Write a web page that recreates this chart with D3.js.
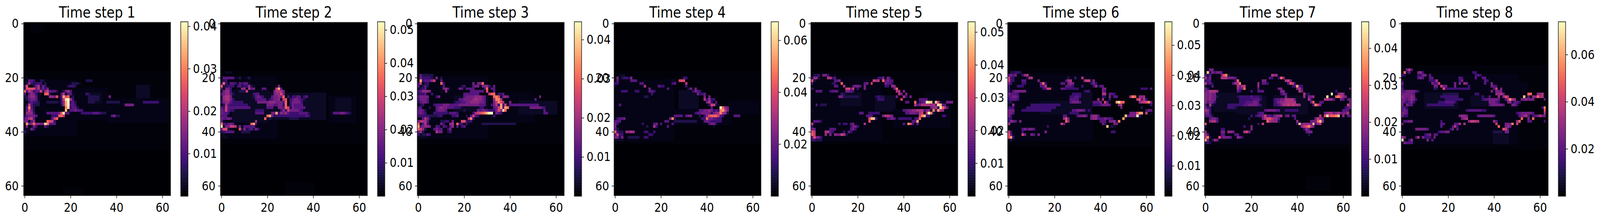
<!DOCTYPE html>
<html>
<head>
<meta charset="utf-8">
<script src="https://cdn.jsdelivr.net/npm/d3@7"></script>
<style>
  html, body { margin: 0; padding: 0; background: #fff; overflow: hidden; }
  svg { display: block; width: 100vw; height: 100vh; }
  text { font-family: "DejaVu Sans"; fill: #000; }
</style>
</head>
<body>
<svg id="chart" viewBox="0 0 4826 563" preserveAspectRatio="none"></svg>
<script>
// panel titles, colour limits and colorbar ticks
const titles = ["Time step 1", "Time step 2", "Time step 3", "Time step 4", "Time step 5", "Time step 6", "Time step 7", "Time step 8"]
const maxValues = [0.0411, 0.0525, 0.0446, 0.0672, 0.0532, 0.0578, 0.0472, 0.074]
const colorTicks = [
  [0.01, 0.02, 0.03, 0.04],
  [0.01, 0.02, 0.03, 0.04, 0.05],
  [0.01, 0.02, 0.03, 0.04],
  [0.02, 0.04, 0.06],
  [0.01, 0.02, 0.03, 0.04, 0.05],
  [0.01, 0.02, 0.03, 0.04, 0.05],
  [0.01, 0.02, 0.03, 0.04],
  [0.02, 0.04, 0.06]
]
const gridTicks = [0, 20, 40, 60]

// levels: 0-f are fifteenths of the panel maximum, "." and "," are the faint haze
// patches: first row, last row, first col, last col, level
// rows: "row col levels col levels ..."
const step1Patches = [[0,3,3,8,"."],[61,63,17,25,"."],[18,46,0,63,"."],[21,41,0,22,","],[24,35,22,36,","],[26,29,28,33,"1"],[28,36,36,62,","],[23,27,49,54,"1"]]
const step1Rows = [
  "20 1 1", "21 2 443 7 22 27 222", "22 1 263233302 20 12221", "23 0 3900257253 19 2332",
  "24 0 29999573535", "25 0 a47634482684442 17 2564", "26 0 404653110aa2 16 471441 27 32",
  "27 0 2256641 11 665914c9a12 28 22222 37 5", "28 0 1245541 16 38ef73 28 22222",
  "29 0 1034332 10 222221 16 36cf342 28 222 36 222222 52 3333333", "30 1 284222 16 26cf443 44 5555",
  "31 1 4b42 18 be3442", "32 1 4852 18 d0445443", "33 1 6663 10 44444 15 5ae44 25 33333444322",
  "34 0 245554 12 333 15 aa8 38 4522", "35 0 45784 12 48a", "36 0 55146 10 a983",
  "37 1 c56a6655eb444", "38 1 50153 9 42", "39 0 11153", "40 0 31"
]
const step2Patches = [[18,44,0,63,"."],[20,42,0,24,","],[25,36,5,20,"1"],[26,35,20,45,"1"],[27,36,47,58,","],[28,33,50,56,"1"],[59,63,28,40,"."]]
const step2Rows = [
  "18 2 111", "20 1 44444 6 112 11 12", "21 0 123",
  "22 0 3a314431 8 43441", "23 0 a223330 7 342336 13 21 25 5", "24 0 405530 7 10 9 66 11 1745 18 44 24 8c4",
  "25 0 15663 8 2228 23 57775", "26 0 456642 14 344 23 5669 27 51", "27 0 2677 4 5 14 24543 22 4556 26 5a03 31 3344 36 34",
  "28 0 26775 5 3 15 44444 21 3455 25 6 27 89 29 0 30 34554 35 32", "29 0 35664 5 33333 16 5555 20 5666 24 5554 28 a0 30 355553",
  "30 0 12743 5 3333333 20 5554455 27 3a0 30 35444 35 4", "31 0 43844 5 44444444 20 444 25 55 27 4a8 30 2 31 544444",
  "32 0 548433 15 3333 26 3638 30 555543", "33 0 5443 15 4444 22 55c3 26 656 29 43333 34 44442 49 44455432",
  "34 0 444 20 ac52 24 3333333333333 37 43", "35 0 54454 19 a12 30 2222", "36 0 51 15 7", "37 0 b43454 13 ac3",
  "38 0 f155887 8 5 10 44444", "39 0 59921 8 92523 13 42 15 53", "40 0 234444 9 2222", "41 1 1", "42 1 11"
]
const step3Patches = [[18,44,0,63,"."],[20,42,0,30,","],[26,36,30,50,","],[27,32,16,30,"1"],[29,33,44,60,"1"]]
const step3Rows = [
  "19 1 422222", "20 1 533332 8 5 10 2", "21 1 c34446 7 8 10 4", "22 0 38123 10 a3 24 5 26 55a",
  "23 0 41242 10 14 19 23 24 455 28 5663 33 4", "24 0 1234 11 564 18 54 21 4444 29 4a 32 44",
  "25 0 34666 5 5 10 1 12 61 23 444444 30 9 33 4", "26 0 2334 6 3 20 4444444 31 8aa 35 334",
  "27 0 45555 8 35 20 455556665 29 4 33 ab91 37 565 53 5", "28 0 35554 18 4455556 25 7665 29 4 33 6bb71 51 4",
  "29 0 24554 16 2334455666655 29 4 33 58b971 40 5", "30 1 23 7 34445554444555 21 55555544 29 4 32 3573c38 39 1 40 444444444 49 4444",
  "31 0 34 5 2 8 45655444 16 333 27 33 33 458c4cb 49 55555 54 43", "32 0 4542 8 45554 20 2 26 5455 30 4333 34 59 36 6ea 55 4",
  "33 0 4543 7 333333 13 24443 24 3789abdff 34 543 55 44", "34 0 3333 4 3222233 15 334 21 2 23 4843 33 3",
  "35 2 4752 22 7b3", "36 0 57774 10 2233 15 5 19 99323", "37 0 a1473 10 53 14 67 17 a33 21 31 28 222222222222222",
  "38 0 c45665 8 43 11 43 14 46 17 4 19 34", "39 0 a862 7 4544 13 35", "40 0 462 8 755 13 23", "41 0 312243", "42 1 111"
]
const step4Patches = [[18,44,0,63,"."],[21,43,0,25,","],[25,31,28,36,"1"],[32,37,26,50,","],[29,33,50,62,","],[23,28,45,60,"."]]
const step4Rows = [
  "19 2 111", "20 1 5 3 2332 7 5 30 33", "21 1 4 7 444 25 11 28 899", "22 0 33 11 44 25 34 31 7",
  "23 0 1 12 17 19 433 31 3", "24 15 5 23 4 32 25 35 5", "25 3 333 9 33 15 443 34 3543", "26 16 3 36 5334",
  "27 13 22 39 5 41 5", "28 39 7 40 3 41 6 42 33", "29 40 57 42 3 44 4", "30 2 4 41 3882 45 1",
  "31 42 4 46 fa65", "32 37 44 39 5565 43 343 46 bc85", "33 35 34455 40 55 42 3 43 5 44 67b 47 762",
  "34 26 4444 31 455 37 2 39 369aaa 45 843 52 444", "35 0 13445 24 5b2 38 33 40 a55 43 443 46 3",
  "36 0 444 22 44 26 2222222222 39 454 42 33333", "37 0 53 12 3 17 45 20 4 25 4 41 455 44 2",
  "38 0 5 14 2 17 73 23 4 43 1", "39 0 42", "40 0 a322 5 6676 13 33 17 3", "41 0 4833 15 33", "42 0 5525 6 22222 13 33", "43 0 1111"
]
const step5Patches = [[18,44,0,63,"."],[20,43,0,30,","],[26,30,13,21,"1"],[27,32,28,36,"1"],[26,36,50,60,","],[32,38,36,60,","]]
const step5Rows = [
  "19 1 223 5 553 10 1", "20 0 2662 7 7734 29 335 33 53", "21 0 92 10 445 27 877 31 a454 35 4",
  "22 0 3 9 23 13 a 23 45 26 8 32 5443", "23 10 44 14 7 18 4554 23 5 32 33 35 66", "24 0 3 15 8958 20 3 23 5 36 5a",
  "25 2 444 8 3444 15 5543 37 77 40 5", "26 13 32 38 75 41 5", "27 12 552222222 28 2322 37 5 40 73 43 5",
  "28 29 333 39 8 47 4444", "29 41 44 45 a1345fed1d8 59 555 56 2", "30 2 4 4 222 45 74577776 53 75ed44",
  "31 52 567 55 2ea74", "32 0 1 40 44556677 48 7456 53 b3c76", "33 21 44 25 33333 41 44555 46 47 48 8 50 8fb2",
  "34 24 444 31 57765 47 8 48 bd35 51 3 57 33", "35 25 9dd3 33 4454 38 333333 45 34a", "36 1 4442 25 91 44 44c", "37 0 81 12 3 14 33 17 45 23 7 40 4 42 c94 46 4",
  "38 0 3 17 3553", "39 0 55 8 444 17 453", "40 0 98 6 774 9 3 14 3 16 43", "41 0 a8 6 6 8 5 10 655872", "42 0 4955 4 3", "43 0 33222"
]
const step6Patches = [[17,45,0,63,"."],[19,43,0,36,","],[26,33,28,36,"1"],[27,33,5,22,","],[29,33,14,36,"1"]]
const step6Rows = [
  "18 1 22332", "19 0 4545 6 367", "20 0 833 8 277 26 2 29 3 32 7", "21 0 833 6 44 13 5 25 467 33 68825",
  "22 0 53 6 33 14 5a3 23 44 26 565 36 353", "23 0 3 4 333 14 447 25 4443 32 3 37 36244", "24 0 3 15 3488 23 44333333 41 55 58 333 62 4",
  "25 0 3 2 455555 33 233 41 54", "26 0 54443 28 3333 41 77 44 443", "27 0 44554 27 33443 41 32 44 5 46 44 53 7ba 57 666",
  "28 0 34443 27 4444 39 6 41 7 44 3 56 89 58 473", "29 0 22 27 45554 37 4445 42 84 47 cea 50 a 57 6789b5",
  "30 0 1 2 6 10 3333333333333 37 3334555 44 4 48 67 62 3", "31 0 333 8 3333333333333 49 5 58 2",
  "32 0 555 6 3333333333333 28 445554 35 3 60 354", "33 0 55 2 4 27 3333 53 5559cc1 60 8 62 1",
  "34 0 53 24 44 30 45564 36 5664 51 d4555f3", "35 0 33 24 695 36 5664 40 445443 50 c1",
  "36 0 3654 5 5 25 a6 40 444 44 5562 48 b", "37 0 7 1 1 23 8 24 5 41 53 46 55", "38 17 3 43 d121", "39 6 454554", "40 0 83 6 3 16 5 45 33",
  "41 0 94 2 1 6 85 10 54 13 5", "42 0 9c3", "43 1 2"
]
const step7Patches = [[16,46,0,63,"."],[17,44,0,63,","],[27,33,14,26,"1"],[27,33,30,44,"1"],[26,32,4,14,"1"],[57,61,44,54,"."]]
const step7Rows = [
  "17 2 55", "18 1 d2545 6 54", "19 0 424 7 59b2 29 766", "20 0 735 7 777555 13 4 28 43 32 3a6",
  "21 0 344 13 3a 25 55 35 785", "22 0 8342 12 467b 23 6 25 443 36 4983", "23 0 2 3 4 14 7578 23 6 38 34c43",
  "24 0 53 14 645a 23 4 32 55 40 674 63 5", "25 0 557776 14 43 20 3 23 444 33 55 41 75 57 3", "26 0 65655 33 354 42 0 43 722 55 f 58 676",
  "27 0 656552 14 23333343332 35 5 43 6 45 55 47 6 53 e 57 ab865", "28 0 65655 15 3333334443 30 34455777 38 74 45 73 52 7766 56 4 59 54 62 45",
  "29 0 64553 15 333444554 30 3456677 37 777 46 5a 50 44 63 5", "30 0 4 1 17 3 2 10 333333344555 22 54 24 3 30 3345778 37 7 38 87 40 76 47 4b85 62 85",
  "31 0 533 10 3332 61 345", "32 0 763 26 455554 32 4 35 333333 60 444", "33 0 553 23 344 52 56775675557",
  "34 0 4442 20 3 22 3445 26 84435667 35 45 38 44 50 7 52 9e9aabd 60 6 62 44", "35 2 4554 19 2 25 5799766 32 4 39 4 48 5865",
  "36 2 6774 27 a7666 32 2 40 6 46 5 47 55ad6", "37 0 a 23 3 25 8 40 3d5666 46 5d467", "38 0 2 17 3 20 5 42 689b75",
  "39 7 33 20 5 43 364", "40 0 6 7 55 10 665 17 785 44 455", "41 0 74 7 44 13 44 45 2", "42 0 8b2 6 94555 11 4 14 653", "43 0 c5 3 265", "44 0 232"
]
const step8Patches = [[16,46,0,63,"."],[19,44,0,50,","],[26,31,10,24,"1"],[27,31,30,38,"1"],[31,35,28,44,","],[22,27,46,54,","],[40,44,40,46,"1"]]
const step8Rows = [
  "17 2 574", "18 1 a24 7 563 31 33", "19 0 32 7 3355 12 4 32 343", "20 7 454 12 44 25 43 32 4 35 44",
  "21 0 2 12 3337 25 35 36 43", "22 0 5 13 5448 23 5 25 5 27 65 36 4 39 5", "23 0 3 14 55 17 855 23 5 29 3 39 543",
  "24 0 4 14 32 18 933333333333 40 48 43 5", "25 0 44555542 39 5 41 555", "26 0 555554 18 2222222 32 33 41 6675 55 aa 59 667",
  "27 0 655565 17 33333333 35 3 38 4 42 6 44 697 53 d 55 4 57 66a77", "28 0 5545653 19 33333333 35 34455554 45 47b76 52 556555 62 4",
  "29 0 543453 16 33344443 38 55543 46 5624 49 443", "30 0 5 2 544 11 333333333333 38 4555554 48 553", "31 0 442 61 3b",
  "32 0 454 28 344444433 62 9", "33 0 554 50 34555554 62 7", "34 0 533 25 5665 33 45555554 51 45674 57 3 58 45755",
  "35 26 567 52 a 55 5 57 a", "36 1 4455 17 3 29 68877 40 64 50 6a 55 44 62 3", "37 0 5 17 44 23 447 27 7 41 8 45 555 48 b 50 8",
  "38 17 4 22 473 42 a 45 565", "39 6 555554 21 35 24 4 44 984", "40 0 1 16 34455 40 2222 45 55", "41 10 345 14 44",
  "42 0 75 6 47 9 5333 14 5", "43 0 f1 3 36 11 5 13 4", "44 1 5444"
]

const allPatches = [step1Patches, step2Patches, step3Patches, step4Patches, step5Patches, step6Patches, step7Patches, step8Patches]
const allRows = [step1Rows, step2Rows, step3Rows, step4Rows, step5Rows, step6Rows, step7Rows, step8Rows]

const gridSize = 64
const firstLeft = 71.4, panelStep = 593.6
const plotTop = 57.4, plotSize = 443
const barOffset = 473.7, barWidth = 22, barTop = 55.7, barBottom = 502
const tickSize = 7, lineColor = "#1a1a1a", lineWidth = 1.7

const svg = d3.select("#chart")

function levelOf(c) {
  if (c === ".") return 0.3
  if (c === ",") return 0.6
  return parseInt(c, 16)
}

// turn the patches and rows into a grid of values
function buildGrid(patches, rows, vmax) {
  const grid = d3.range(gridSize).map(() => new Array(gridSize).fill(0))
  patches.forEach(([r0, r1, c0, c1, lev]) => {
    for (let r = r0; r <= r1; r++) for (let c = c0; c <= c1; c++) grid[r][c] = levelOf(lev) / 15 * vmax
  })
  rows.forEach(line => {
    const parts = line.split(" ")
    const r = +parts[0]
    for (let p = 1; p < parts.length; p += 2) {
      const start = +parts[p]
      Array.from(parts[p + 1]).forEach((ch, i) => {
        if (start + i < gridSize) grid[r][start + i] = levelOf(ch) / 15 * vmax
      })
    }
  })
  return grid
}

function styleAxis(g, size) {
  g.select(".domain").remove()
  g.selectAll("line").attr("stroke", lineColor).attr("stroke-width", lineWidth)
  g.selectAll("text").attr("font-size", size).attr("font-family", "DejaVu Sans").attr("fill", "#000")
}

titles.forEach((title, i) => {
  const vmax = maxValues[i]
  const left = firstLeft + i * panelStep
  const g = svg.append("g").attr("class", "panel")

  const color = d3.scaleSequential(d3.interpolateMagma).domain([0, vmax])
  const xBand = d3.scaleBand().domain(d3.range(gridSize)).range([left, left + plotSize])
  const yBand = d3.scaleBand().domain(d3.range(gridSize)).range([plotTop, plotTop + plotSize])
  const x = d3.scaleLinear().domain([-0.5, gridSize - 0.5]).range([left, left + plotSize])
  const y = d3.scaleLinear().domain([-0.5, gridSize - 0.5]).range([plotTop, plotTop + plotSize])

  const grid = buildGrid(allPatches[i], allRows[i], vmax)
  const cells = grid.flatMap((row, r) => row.map((v, c) => ({ r, c, v })))

  g.append("g").selectAll("rect")
    .data(cells)
    .join("rect")
    .attr("x", d => xBand(d.c))
    .attr("y", d => yBand(d.r))
    .attr("width", xBand.bandwidth() + 0.5)
    .attr("height", yBand.bandwidth() + 0.5)
    .attr("fill", d => color(d.v))
    .attr("shape-rendering", "crispEdges")

  g.append("rect")
    .attr("x", left).attr("y", plotTop)
    .attr("width", plotSize).attr("height", plotSize)
    .attr("fill", "none").attr("stroke", lineColor).attr("stroke-width", lineWidth)

  g.append("g")
    .attr("transform", `translate(0,${plotTop + plotSize})`)
    .call(d3.axisBottom(x).tickValues(gridTicks).tickSize(tickSize).tickPadding(11).offset(0))
    .call(a => styleAxis(a, 32.6))

  g.append("g")
    .attr("transform", `translate(${left},0)`)
    .call(d3.axisLeft(y).tickValues(gridTicks).tickSize(tickSize).tickPadding(8).offset(0))
    .call(a => styleAxis(a, 32.6))

  g.append("text")
    .attr("x", left + plotSize / 2)
    .attr("y", 45.5)
    .attr("text-anchor", "middle")
    .attr("font-size", 39.2)
    .text(title)

  // colorbar
  const barLeft = left + barOffset
  const barScale = d3.scaleLinear().domain([0, vmax]).range([barBottom, barTop])
  const steps = d3.range(256)
  const stepH = (barBottom - barTop) / 256
  g.append("g").selectAll("rect")
    .data(steps)
    .join("rect")
    .attr("x", barLeft)
    .attr("y", d => barScale((d + 1) / 256 * vmax))
    .attr("width", barWidth)
    .attr("height", stepH + 0.5)
    .attr("fill", d => d3.interpolateMagma(d / 255))

  g.append("rect")
    .attr("x", barLeft).attr("y", barTop)
    .attr("width", barWidth).attr("height", barBottom - barTop)
    .attr("fill", "none").attr("stroke", lineColor).attr("stroke-width", lineWidth)

  g.append("g")
    .attr("transform", `translate(${barLeft + barWidth},0)`)
    .call(d3.axisRight(barScale).tickValues(colorTicks[i]).tickFormat(d3.format(".2f")).tickSize(tickSize).tickPadding(8).offset(0))
    .call(a => styleAxis(a, 32.6))
})
</script>
</body>
</html>
